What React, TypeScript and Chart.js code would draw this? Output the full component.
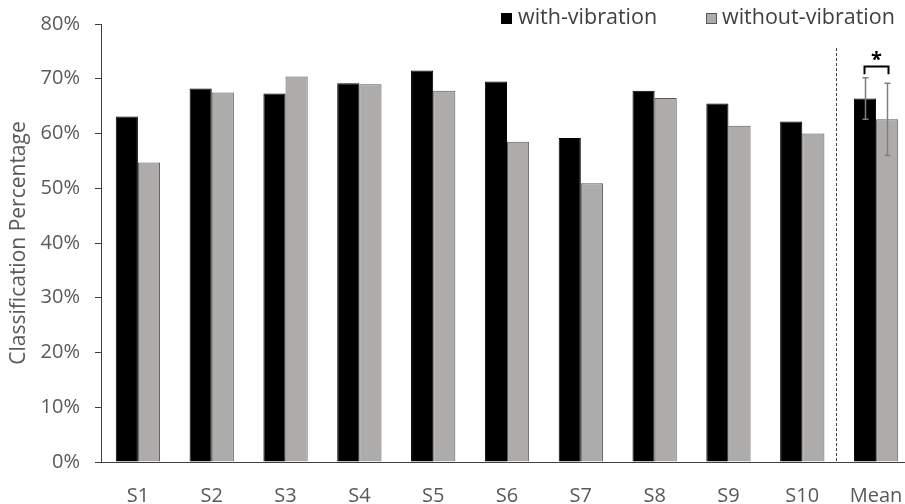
import React, { useEffect, useRef } from "react";
import { Chart, registerables } from "chart.js";

Chart.register(...registerables);

const categories = ["S1", "S2", "S3", "S4", "S5", "S6", "S7", "S8", "S9", "S10", "Mean"];
const withVibration = [63.1, 68.2, 67.3, 69.2, 71.5, 69.5, 59.2, 67.8, 65.5, 62.2, 66.4];
const withoutVibration = [54.7, 67.5, 70.4, 69.0, 67.8, 58.5, 50.9, 66.5, 61.4, 60.0, 62.6];
const withError = [null, null, null, null, null, null, null, null, null, null, 3.8];
const withoutError = [null, null, null, null, null, null, null, null, null, null, 6.6];
const yTicks = [0, 10, 20, 30, 40, 50, 60, 70, 80];
const seriesNames = ["with-vibration", "without-vibration"];
const significanceMark = "*";

const FONT = "'Open Sans', sans-serif";
const BLACK = "#000000";
const GREY = "#AEABAB";
const GREY_BORDER = "#595959";

const overlayPlugin = {
  id: "overlay",
  afterDatasetsDraw(chart: any) {
    const ctx = chart.ctx;
    const xs = chart.scales.x;
    const ys = chart.scales.y;
    ctx.save();

    // dashed separator before Mean
    const sepX = Math.round(xs.getPixelForValue(9.46)) + 0.5;
    ctx.strokeStyle = "#404040";
    ctx.lineWidth = 1;
    ctx.setLineDash([3, 2]);
    ctx.beginPath();
    ctx.moveTo(sepX, ys.getPixelForValue(75.6));
    ctx.lineTo(sepX, ys.getPixelForValue(0));
    ctx.stroke();
    ctx.setLineDash([]);

    // error bars
    const errs = [withError, withoutError];
    const vals = [withVibration, withoutVibration];
    const centers: number[] = [];
    [0, 1].forEach((di) => {
      const meta = chart.getDatasetMeta(di);
      meta.data.forEach((el: any, i: number) => {
        const e = errs[di][i];
        if (e == null) return;
        const cx = Math.round(el.x) + 0.5;
        centers[di] = cx;
        const top = ys.getPixelForValue(vals[di][i] + e);
        const bot = ys.getPixelForValue(vals[di][i] - e);
        ctx.strokeStyle = "#7F7F7F";
        ctx.lineWidth = 1.5;
        ctx.beginPath();
        ctx.moveTo(cx, top);
        ctx.lineTo(cx, bot);
        ctx.moveTo(cx - 3, top);
        ctx.lineTo(cx + 3, top);
        ctx.moveTo(cx - 3, bot);
        ctx.lineTo(cx + 3, bot);
        ctx.stroke();
      });
    });

    // significance bracket
    if (centers.length === 2) {
      const l = centers[0] - 1;
      const r = centers[1] + 1;
      const yt = Math.round(ys.getPixelForValue(72.3)) + 0.5;
      const yb = ys.getPixelForValue(70.8);
      ctx.strokeStyle = "#000000";
      ctx.lineWidth = 2;
      ctx.beginPath();
      ctx.moveTo(l, yb);
      ctx.lineTo(l, yt);
      ctx.lineTo(r, yt);
      ctx.lineTo(r, yb);
      ctx.stroke();
      ctx.fillStyle = "#000000";
      ctx.font = `bold 20px ${FONT}`;
      ctx.textAlign = "center";
      ctx.textBaseline = "middle";
      ctx.fillText(significanceMark, (l + r) / 2, ys.getPixelForValue(73.4));
    }

    // legend
    ctx.font = `21.5px ${FONT}`;
    ctx.textAlign = "left";
    ctx.textBaseline = "middle";
    const items = [
      { x: 501, tx: 518, fill: BLACK, stroke: BLACK },
      { x: 706, tx: 722, fill: GREY, stroke: GREY_BORDER },
    ];
    items.forEach((it, k) => {
      ctx.fillStyle = it.fill;
      ctx.fillRect(it.x, 13, 11, 11);
      ctx.strokeStyle = it.stroke;
      ctx.lineWidth = 1;
      ctx.strokeRect(it.x + 0.5, 13.5, 10, 10);
      ctx.fillStyle = "#404040";
      ctx.fillText(seriesNames[k], it.tx, 18);
    });

    ctx.restore();
  },
};

export default function App() {
  const ref = useRef<HTMLCanvasElement>(null);
  useEffect(() => {
    const chart = new Chart(ref.current!, {
      type: "bar",
      data: {
        labels: categories,
        datasets: [
          {
            label: seriesNames[0],
            data: withVibration,
            backgroundColor: BLACK,
            borderColor: BLACK,
            borderWidth: 1,
            categoryPercentage: 0.6,
            barPercentage: 1.0,
          },
          {
            label: seriesNames[1],
            data: withoutVibration,
            backgroundColor: GREY,
            borderColor: GREY_BORDER,
            borderWidth: 1,
            categoryPercentage: 0.6,
            barPercentage: 1.0,
          },
        ],
      },
      options: {
        responsive: false,
        animation: false,
        layout: { padding: { top: 24, right: 0, left: 0, bottom: 0 } },
        plugins: {
          legend: { display: false },
          tooltip: { enabled: false },
        },
        scales: {
          x: {
            grid: { display: false, drawTicks: false },
            border: { display: true, color: "#404040", width: 1 },
            ticks: {
              color: "#595959",
              font: { family: FONT, size: 20 },
              padding: 22,
              maxRotation: 0,
            },
            afterFit: (s: any) => {
              s.height = 42;
              s.paddingLeft = 0;
              s.paddingRight = 0;
            },
          },
          y: {
            min: 0,
            max: 80,
            afterBuildTicks: (s: any) => {
              s.ticks = yTicks.map((v) => ({ value: v }));
            },
            grid: {
              display: true,
              drawOnChartArea: false,
              drawTicks: true,
              tickLength: 6,
              color: "#404040",
            },
            border: { display: true, color: "#404040", width: 1 },
            ticks: {
              color: "#595959",
              font: { family: FONT, size: 20 },
              padding: 15,
              callback: (v: any) => `${v}%`,
            },
            title: {
              display: true,
              text: "Classification Percentage",
              color: "#595959",
              font: { family: FONT, size: 21 },
              padding: { top: 6, bottom: 0 },
            },
            afterFit: (s: any) => {
              s.width = 101;
              s.paddingTop = 0;
              s.paddingBottom = 0;
            },
          },
        },
      },
      plugins: [overlayPlugin],
    });
    return () => chart.destroy();
  }, []);

  return (
    <div
      style={{
        position: "fixed",
        left: 0,
        top: 0,
        width: 905,
        height: 504,
        overflow: "hidden",
        background: "#ffffff",
      }}
    >
      <canvas ref={ref} width={913} height={504} style={{ display: "block" }} />
    </div>
  );
}
